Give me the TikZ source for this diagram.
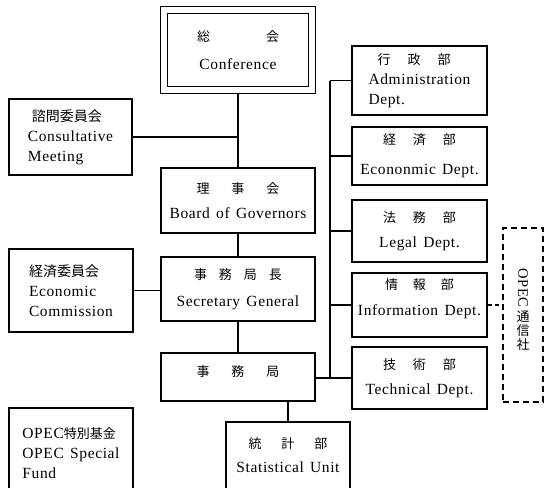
\documentclass[tikz,border=0pt]{standalone}
\usepackage{fontspec}
\usepackage{graphicx}
\setmainfont{Liberation Serif}[LetterSpace=4, WordSpace=1.4]
\newfontfamily\jpfont{Noto Sans CJK JP}
\usetikzlibrary{backgrounds}
\newcommand{\jtx}[1]{{\jpfont\fontsize{13}{20}\selectfont #1}}
\newcommand{\jtxb}[1]{{\jpfont\fontsize{14}{20}\selectfont #1}}
\newcommand{\jg}[1]{\hspace*{#1pt}}
\begin{document}
\begin{tikzpicture}[x=1pt,y=-1pt,
  box/.style={draw, line width=1.1pt, inner sep=0pt, align=center,
    font=\fontsize{15.5}{20}\selectfont},
  lbox/.style={box, align=left},
  dbox/.style={draw, line width=1.3pt, dash pattern=on 6pt off 4pt, inner sep=0pt,
    align=center, font=\fontsize{14.5}{14}\selectfont},
  conn/.style={line width=1.1pt},
  dconn/.style={line width=1.1pt, dash pattern=on 4pt off 3pt}]
\useasboundingbox (0,0) rectangle (550,488);
\clip (0,0) rectangle (550,488);

% central column
\node[box, line width=1.3pt, double, double distance=5.5pt,
  minimum width=148pt, minimum height=80pt] (conf) at (238,50)
  {\jtx{総\jg{56}会}\\[8pt]Conference};
\node[box, minimum width=154pt, minimum height=65pt] (board) at (238,200.5)
  {\jtx{理\jg{22}事\jg{22}会}\\[5pt]Board of Governors};
\node[box, minimum width=154pt, minimum height=64pt] (secgen) at (238,289)
  {\jtx{事\jg{12}務\jg{12}局\jg{12}長}\\[7pt]Secretary General};
\node[box, minimum width=154pt, minimum height=48pt, text depth=11pt] (jimu) at (238,377)
  {\jtx{事\jg{22}務\jg{22}局}};
\node[box, minimum width=124pt, minimum height=76pt, text depth=9pt] (stat) at (288,460)
  {\jtx{統\jg{20}計\jg{20}部}\\[4pt]Statistical Unit};

% left column
\node[lbox, minimum width=123pt, minimum height=76pt] (consult) at (70.5,137)
  {\hspace*{4pt}\jtxb{諮問委員会}\\Consultative\\Meeting};
\node[lbox, minimum width=124pt, minimum height=83pt] (econcomm) at (71,290.5)
  {\jtxb{経済委員会}\\Economic\\Commission};
\node[lbox, minimum width=124pt, minimum height=90pt] (fund) at (71,453)
  {OPEC\jtx{特別基金}\\OPEC Special\\Fund};

% departments
\node[lbox, minimum width=135pt, minimum height=69pt] (admin) at (419.5,80.5)
  {\hspace*{9pt}\jtx{行\jg{17}政\jg{17}部}\\Administration\\Dept.};
\node[box, minimum width=135pt, minimum height=58pt] (econ) at (419.5,156)
  {\jtx{経\jg{17}済\jg{17}部}\\[10pt]Econonmic Dept.};
\node[box, minimum width=135pt, minimum height=62pt] (legal) at (419.5,231)
  {\jtx{法\jg{17}務\jg{17}部}\\[5pt]Legal Dept.};
\node[box, minimum width=135pt, minimum height=64pt, text depth=15pt] (info) at (419.5,305)
  {\jtx{情\jg{15}報\jg{15}部}\\[6pt]Information Dept.};
\node[box, minimum width=135pt, minimum height=62pt] (tech) at (419.5,378)
  {\jtx{技\jg{17}術\jg{17}部}\\[5pt]Technical Dept.};

\node[dbox, minimum width=40pt, minimum height=174pt, text depth=12pt] (opec) at (523,315)
  {\rotatebox{-90}{OPEC}\\[2pt]\jtx{通}\\\jtx{信}\\\jtx{社}};

\begin{scope}[on background layer]
  \coordinate (spx) at (330,0);
  \draw[conn] (board.north |- conf.south) -- (board.north);
  \draw[conn] (consult.east) -- (consult.east -| board.north);
  \draw[conn] (board.south) -- (secgen.north);
  \draw[conn] (econcomm.east) -- (econcomm.east -| secgen.west);
  \draw[conn] (secgen.south) -- (jimu.north);
  \draw[conn] (stat.north |- jimu.south) -- (stat.north);
  \draw[conn] (admin.west -| spx) -- (tech.west -| spx);
  \draw[conn] (admin.west) -- (admin.west -| spx);
  \draw[conn] (econ.west) -- (econ.west -| spx);
  \draw[conn] (legal.west) -- (legal.west -| spx);
  \draw[conn] (info.west) -- (info.west -| spx);
  \draw[conn] (jimu.east |- tech.west) -- (tech.west);
  \draw[dconn] (info.east) -- (info.east -| opec.west);
\end{scope}
\end{tikzpicture}
\end{document}
